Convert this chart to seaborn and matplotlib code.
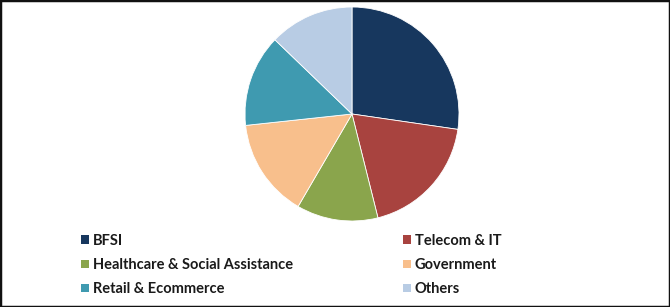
import matplotlib
matplotlib.use("Agg")
import matplotlib.pyplot as plt
from matplotlib.patches import Patch, Rectangle
import seaborn as sns

categories = ["BFSI", "Telecom & IT", "Healthcare & Social Assistance",
              "Government", "Retail & Ecommerce", "Others"]
shares = [27.3, 18.8, 12.3, 14.9, 13.9, 12.8]
colors = ["#17375E", "#A8433F", "#8AA54C", "#F8BF8C", "#3F9AB0", "#B8CCE4"]

sns.set_theme(style="white")
plt.rcParams["font.family"] = ["Lato", "DejaVu Sans"]
palette = sns.color_palette(colors)

W, H = 670, 307
fig = plt.figure(figsize=(W / 100, H / 100), dpi=100)
fig.patch.set_facecolor("white")

cx, cy, r = 352, 114, 107
ax = fig.add_axes([(cx - r) / W, (H - cy - r) / H, 2 * r / W, 2 * r / H])
ax.pie(shares, colors=palette, startangle=90, counterclock=False, radius=1,
       wedgeprops=dict(linewidth=0.6, edgecolor="white"))
ax.set_xlim(-1, 1)
ax.set_ylim(-1, 1)
ax.set_aspect("auto")
ax.axis("off")

handles = [Patch(facecolor=palette[i], edgecolor="none", label=categories[i])
           for i in range(len(categories))]
common = dict(frameon=False, loc="upper left", borderpad=0, borderaxespad=0,
              handlelength=0.54, handleheight=0.54, handletextpad=0.28,
              labelspacing=0.69, prop=dict(size=10.5, weight="bold"))
left_idx = [0, 2, 4]
right_idx = [1, 3, 5]
top = H - 234
leg1 = fig.legend([handles[i] for i in left_idx], [categories[i] for i in left_idx],
                  bbox_to_anchor=(81 / W, top / H), **common)
leg2 = fig.legend([handles[i] for i in right_idx], [categories[i] for i in right_idx],
                  bbox_to_anchor=(403 / W, top / H), **common)
for leg in (leg1, leg2):
    for t in leg.get_texts():
        t.set_color("#1a1a1a")

fig.patches.append(Rectangle((0, 0), 1, 1, transform=fig.transFigure, fill=False,
                             edgecolor="#111111", linewidth=2.5))

fig.savefig("out.png", dpi=100)
